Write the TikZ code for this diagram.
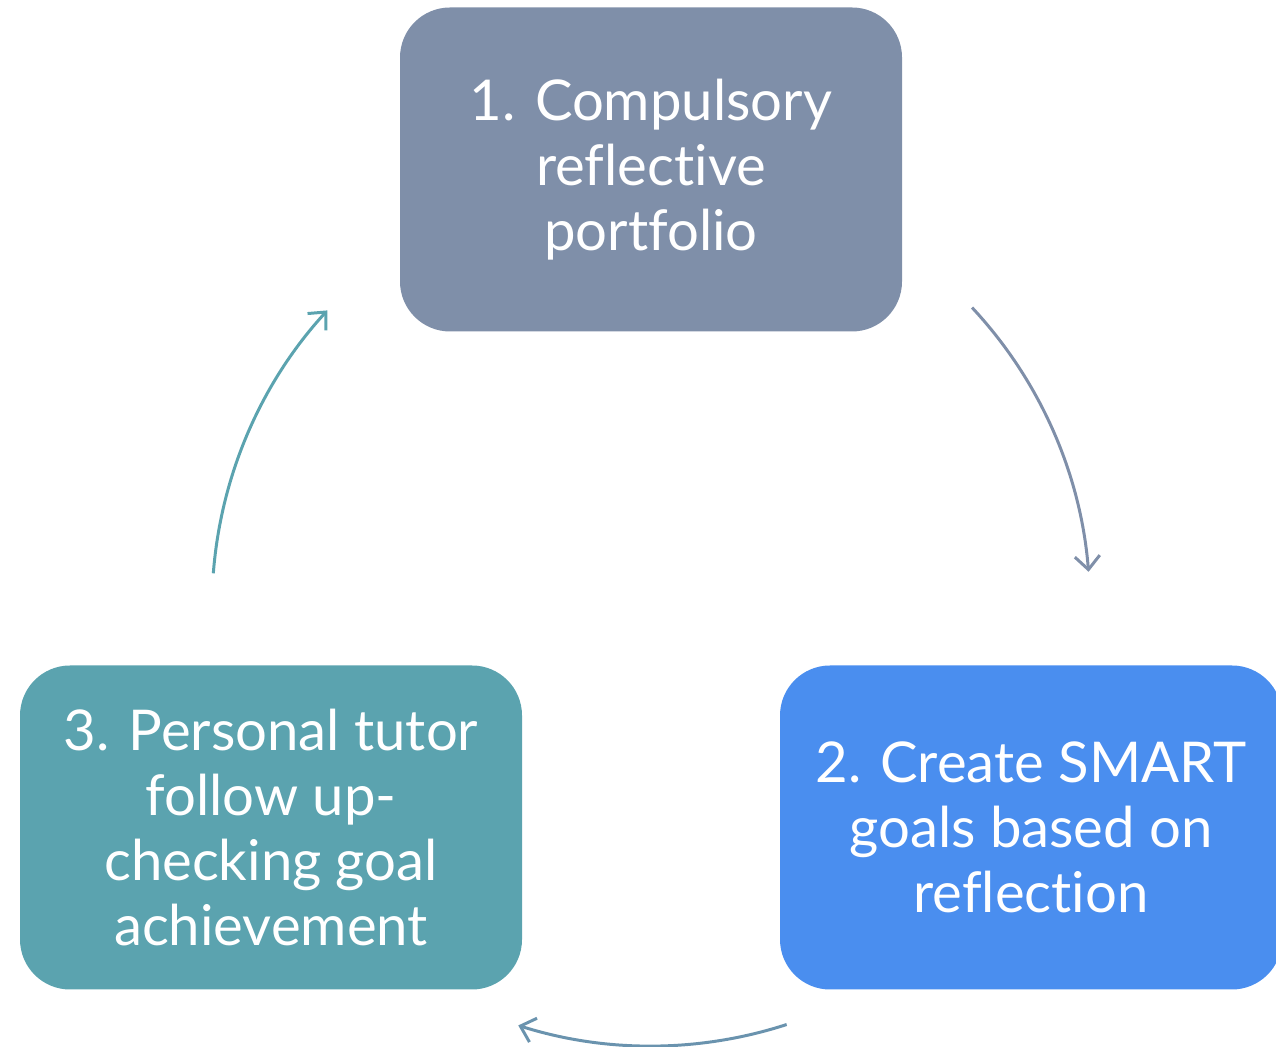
\documentclass[tikz,border=0pt]{standalone}
\usepackage{xcolor}
\usepackage{fontspec}
\setmainfont[Ligatures = NoCommon]{Lato}
\usepackage{tikz}
\usetikzlibrary{calc}
\usetikzlibrary{arrows.meta}
\usetikzlibrary{positioning}
\definecolor{slate}{HTML}{7F8FA9}
\definecolor{sky}{HTML}{4A8EEF}
\definecolor{teal}{HTML}{5BA3AF}
\definecolor{steel}{HTML}{6A93AE}
\tikzset{>={Straight Barb[length=2.7mm, width=5mm]}}
\tikzstyle{stage} = [rounded corners = 1cm, minimum width = 10.04cm, minimum height = 6.48cm, align = center, text = white, font = \fontsize{32}{37}\selectfont, inner sep = 0]
\tikzstyle{cycle} = [->, line width = 1.7pt]

\begin{document}
\begin{tikzpicture}
\useasboundingbox (0, 0) rectangle (25.52, 20.94);
\node [stage, fill = slate] (P) at (13.02, 17.55) {1. Compulsory\\reflective\\portfolio};
\node [stage, fill = sky] (G) at (20.62, 4.39) {2. Create SMART\\goals based on\\reflection};
\node [stage, fill = teal] (T) at (5.42, 4.39) {3. Personal tutor\\follow up-\\checking goal\\achievement};
\coordinate (O) at (13.02, 8.8);
\coordinate (PG) at ($(O) + (43:8.78)$);
\coordinate (GT) at ($(O) + (-72:8.78)$);
\coordinate (TP) at ($(O) + (175.6:8.78)$);
\draw [cycle, draw = slate] (PG) arc [start angle = 43, end angle = 4.6, radius = 8.78];
\draw [cycle, draw = steel] (GT) arc [start angle = -72, end angle = -107.6, radius = 8.78];
\draw [cycle, draw = teal] (TP) arc [start angle = 175.6, end angle = 137.5, radius = 8.78];
\end{tikzpicture}
\end{document}
